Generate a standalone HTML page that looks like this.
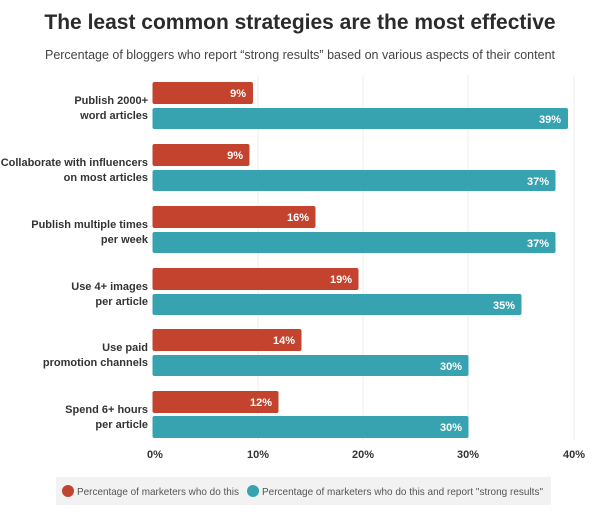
<!DOCTYPE html>
<html><head><meta charset="utf-8"><style>
body{margin:0;background:#fff;width:600px;height:510px;overflow:hidden;font-family:"Liberation Sans",sans-serif;}
</style></head><body>
<svg width="600" height="510" xmlns="http://www.w3.org/2000/svg" font-family="Liberation Sans, sans-serif">
<text x="300" y="29" text-anchor="middle" font-size="21" font-weight="bold" fill="#2b2b2b">The least common strategies are the most effective</text>
<text x="300" y="59" text-anchor="middle" font-size="12.5" fill="#444">Percentage of bloggers who report “strong results” based on various aspects of their content</text>
<g stroke="#ececec" stroke-width="1">
<line x1="258" y1="75" x2="258" y2="440"/><line x1="363" y1="75" x2="363" y2="440"/><line x1="468" y1="75" x2="468" y2="440"/><line x1="574" y1="75" x2="574" y2="440"/>
</g>
<g font-size="11" fill="#333" text-anchor="end" font-weight="bold">
<text x="148" y="104">Publish 2000+</text><text x="148" y="119">word articles</text>
<text x="148" y="166">Collaborate with influencers</text><text x="148" y="181">on most articles</text>
<text x="148" y="228">Publish multiple times</text><text x="148" y="243">per week</text>
<text x="148" y="290">Use 4+ images</text><text x="148" y="305">per article</text>
<text x="148" y="351">Use paid</text><text x="148" y="366">promotion channels</text>
<text x="148" y="413">Spend 6+ hours</text><text x="148" y="428">per article</text>
</g>
<g font-size="11" font-weight="bold" fill="#fff" text-anchor="end">
<rect x="152.5" y="82" width="100.5" height="22" rx="2" fill="#c3432e"/><text x="246" y="97">9%</text>
<rect x="152.5" y="108" width="415.5" height="21" rx="2" fill="#37a3b0"/><text x="561" y="123">39%</text>
<rect x="152.5" y="144" width="97" height="22" rx="2" fill="#c3432e"/><text x="243" y="159">9%</text>
<rect x="152.5" y="170" width="403" height="21" rx="2" fill="#37a3b0"/><text x="549" y="185">37%</text>
<rect x="152.5" y="206" width="163" height="22" rx="2" fill="#c3432e"/><text x="309" y="221">16%</text>
<rect x="152.5" y="232" width="403" height="21" rx="2" fill="#37a3b0"/><text x="549" y="247">37%</text>
<rect x="152.5" y="268" width="206" height="22" rx="2" fill="#c3432e"/><text x="352" y="283">19%</text>
<rect x="152.5" y="294" width="369" height="21" rx="2" fill="#37a3b0"/><text x="515" y="309">35%</text>
<rect x="152.5" y="329" width="149" height="22" rx="2" fill="#c3432e"/><text x="295" y="344">14%</text>
<rect x="152.5" y="355" width="316" height="21" rx="2" fill="#37a3b0"/><text x="462" y="370">30%</text>
<rect x="152.5" y="391" width="126" height="22" rx="2" fill="#c3432e"/><text x="272" y="406">12%</text>
<rect x="152.5" y="416" width="316" height="22" rx="2" fill="#37a3b0"/><text x="462" y="431">30%</text>
</g>
<g font-size="11" fill="#333" text-anchor="middle" font-weight="bold">
<text x="155" y="458">0%</text><text x="258" y="458">10%</text><text x="363" y="458">20%</text><text x="468" y="458">30%</text><text x="574" y="458">40%</text>
</g>
<rect x="56" y="477" width="495" height="28" fill="#f2f2f2"/>
<circle cx="68" cy="491" r="6" fill="#c3432e"/>
<text x="77" y="495" font-size="10.5" fill="#555" textLength="162" lengthAdjust="spacingAndGlyphs">Percentage of marketers who do this</text>
<circle cx="253" cy="491" r="6" fill="#37a3b0"/>
<text x="262" y="495" font-size="10.5" fill="#555" textLength="281" lengthAdjust="spacingAndGlyphs">Percentage of marketers who do this and report "strong results"</text>
</svg>
</body></html>
